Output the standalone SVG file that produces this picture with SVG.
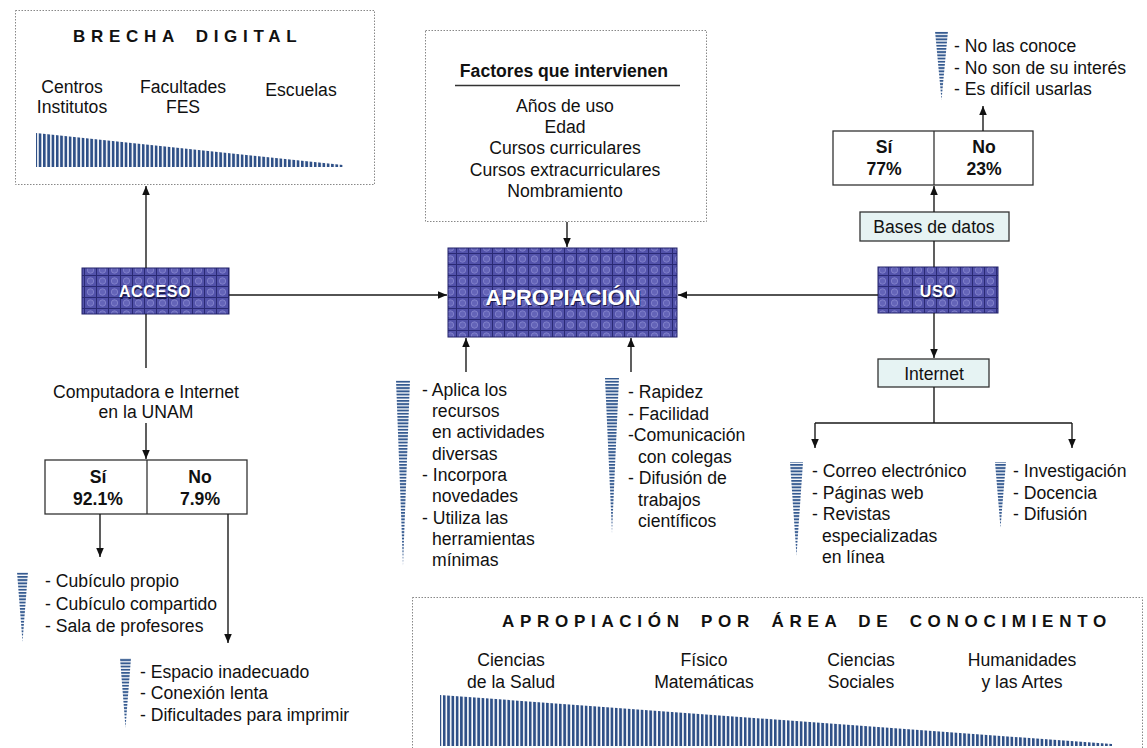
<svg xmlns="http://www.w3.org/2000/svg" width="1147" height="748" viewBox="0 0 1147 748">
<style>
text{font-family:"Liberation Sans",Arial,sans-serif;fill:#111}
.t{font-size:17.6px}
.c{text-anchor:middle}
.b{font-weight:bold}
.ttl{font-size:17px;font-weight:bold;letter-spacing:5.7px;word-spacing:6px}
.node{fill:url(#grid);stroke:#23236a;stroke-width:1}
.nt{font-weight:bold;fill:#fff;text-anchor:middle}
.ns{font-weight:bold;fill:#1a1a4a;text-anchor:middle}
.dot{fill:#fff;stroke:#888;stroke-width:1;stroke-dasharray:1.5 1.5}
.box{fill:#fff;stroke:#333;stroke-width:1.3}
.lbox{fill:#e6f3f3;stroke:#333;stroke-width:1.3}
.conn path{fill:none;stroke:#1a1a1a;stroke-width:1.4}
.vbar{fill:url(#vstripe)}
.hbar{fill:url(#hstripe)}
</style>
<defs>
<pattern id="grid" width="12" height="11" patternUnits="userSpaceOnUse">
<rect width="12" height="11" fill="#5252aa"/>
<circle cx="6.5" cy="6" r="3.2" fill="#6464b8" stroke="#8282cc" stroke-width="0.9"/>
<path d="M0 0.5H12M0.5 0V11" stroke="#2a2a74" stroke-width="1"/>
</pattern>
<pattern id="vstripe" width="4.3" height="748" patternUnits="userSpaceOnUse">
<rect width="2.7" height="748" fill="#2f5087"/>
</pattern>
<pattern id="hstripe" width="20" height="3.2" patternUnits="userSpaceOnUse">
<rect width="20" height="1.9" fill="#355a90"/>
</pattern>
<marker id="ah" viewBox="0 0 10 10" refX="10" refY="5" markerWidth="9" markerHeight="9" orient="auto" markerUnits="userSpaceOnUse">
<path d="M0,0.8 L10,5 L0,9.2 z" fill="#111"/>
</marker>
</defs>
<rect width="1147" height="748" fill="#fff"/>

<g id="brecha-digital">
<rect class="dot" x="15.5" y="10.5" width="359" height="174"/>
<text class="ttl" x="73" y="42">BRECHA DIGITAL</text>
<text class="t c" x="72" y="93">Centros</text>
<text class="t c" x="72" y="113">Institutos</text>
<text class="t c" x="183" y="93">Facultades</text>
<text class="t c" x="183" y="113">FES</text>
<text class="t c" x="301" y="96">Escuelas</text>
<polygon class="vbar" points="36,133 343,165 343,167 36,167"/>
</g>

<g id="factores">
<rect class="dot" x="425.5" y="30.5" width="281" height="191"/>
<text class="t c b" x="564" y="77">Factores que intervienen</text>
<path d="M455 85.5H680" stroke="#333" stroke-width="1.3"/>
<text class="t c" x="565" y="112">Años de uso</text>
<text class="t c" x="565" y="133">Edad</text>
<text class="t c" x="565" y="154">Cursos curriculares</text>
<text class="t c" x="565" y="176">Cursos extracurriculares</text>
<text class="t c" x="565" y="197">Nombramiento</text>
</g>

<g id="acceso">
<rect class="node" x="82" y="268" width="147" height="46"/>
<text class="ns" x="156" y="298.5" font-size="16" letter-spacing="0.6">ACCESO</text>
<text class="nt" x="155" y="297" font-size="16" letter-spacing="0.6">ACCESO</text>
</g>

<g id="apropiacion">
<rect class="node" x="448" y="248" width="229" height="89"/>
<text class="ns" x="564" y="306" font-size="22">APROPIACIÓN</text>
<text class="nt" x="563" y="304.5" font-size="22">APROPIACIÓN</text>
</g>

<g id="uso">
<rect class="node" x="878" y="267" width="120" height="46"/>
<text class="ns" x="939" y="298.5" font-size="16" letter-spacing="0.6">USO</text>
<text class="nt" x="938" y="297" font-size="16" letter-spacing="0.6">USO</text>
</g>

<g id="computadora-label">
<text class="t c" x="146" y="398">Computadora e Internet</text>
<text class="t c" x="146" y="418">en la UNAM</text>
</g>

<g id="acceso-si-no">
<rect class="box" x="45" y="460" width="202" height="54"/>
<path d="M147 460V514" stroke="#333" stroke-width="1.3"/>
<text class="t c b" x="98" y="483">Sí</text>
<text class="t c b" x="98" y="505">92.1%</text>
<text class="t c b" x="200" y="483">No</text>
<text class="t c b" x="200" y="505">7.9%</text>
</g>

<g id="lista-si">
<polygon class="hbar" points="17,572 28,572 22.5,642"/>
<text class="t" x="45" y="587">- Cubículo propio</text>
<text class="t" x="45" y="610">- Cubículo compartido</text>
<text class="t" x="45" y="632">- Sala de profesores</text>
</g>

<g id="lista-no">
<polygon class="hbar" points="120,658 131,658 125.5,728"/>
<text class="t" x="140" y="678">- Espacio inadecuado</text>
<text class="t" x="140" y="699">- Conexión lenta</text>
<text class="t" x="140" y="721">- Dificultades para imprimir</text>
</g>

<g id="lista-aplica">
<polygon class="hbar" points="396,380 410,380 403,566"/>
<text class="t" x="422" y="396">- Aplica los</text>
<text class="t" x="432" y="417">recursos</text>
<text class="t" x="432" y="438">en actividades</text>
<text class="t" x="432" y="460">diversas</text>
<text class="t" x="422" y="481">- Incorpora</text>
<text class="t" x="432" y="502">novedades</text>
<text class="t" x="422" y="524">- Utiliza las</text>
<text class="t" x="432" y="545">herramientas</text>
<text class="t" x="432" y="566">mínimas</text>
</g>

<g id="lista-rapidez">
<polygon class="hbar" points="605,378 619,378 612,533"/>
<text class="t" x="628" y="398">- Rapidez</text>
<text class="t" x="628" y="420">- Facilidad</text>
<text class="t" x="628" y="441">-Comunicación</text>
<text class="t" x="638" y="463">con colegas</text>
<text class="t" x="628" y="484">- Difusión de</text>
<text class="t" x="638" y="506">trabajos</text>
<text class="t" x="638" y="527">científicos</text>
</g>

<g id="lista-no-conoce">
<polygon class="hbar" points="935,31 948,31 941.5,100"/>
<text class="t" x="954" y="52">- No las conoce</text>
<text class="t" x="954" y="74">- No son de su interés</text>
<text class="t" x="954" y="95">- Es difícil usarlas</text>
</g>

<g id="uso-si-no">
<rect class="box" x="833" y="131" width="200" height="54"/>
<path d="M934 131V185" stroke="#333" stroke-width="1.3"/>
<text class="t c b" x="884" y="153">Sí</text>
<text class="t c b" x="884" y="175">77%</text>
<text class="t c b" x="984" y="153">No</text>
<text class="t c b" x="984" y="175">23%</text>
</g>

<g id="bases-de-datos">
<rect class="lbox" x="860" y="212" width="149" height="29"/>
<text class="t c" x="934" y="233">Bases de datos</text>
</g>

<g id="internet">
<rect class="lbox" x="878" y="359" width="111" height="28"/>
<text class="t c" x="934" y="380">Internet</text>
</g>

<g id="lista-correo">
<polygon class="hbar" points="790,462 803,462 796.5,556"/>
<text class="t" x="812" y="477">- Correo electrónico</text>
<text class="t" x="812" y="499">- Páginas web</text>
<text class="t" x="812" y="520">- Revistas</text>
<text class="t" x="822" y="542">especializadas</text>
<text class="t" x="822" y="563">en línea</text>
</g>

<g id="lista-investigacion">
<polygon class="hbar" points="995,462 1006,462 1000.5,528"/>
<text class="t" x="1013" y="477">- Investigación</text>
<text class="t" x="1013" y="499">- Docencia</text>
<text class="t" x="1013" y="520">- Difusión</text>
</g>

<g id="area-conocimiento">
<rect class="dot" x="412.5" y="597.5" width="730" height="160"/>
<text class="ttl" x="502" y="627">APROPIACIÓN POR ÁREA DE CONOCIMIENTO</text>
<text class="t c" x="511" y="666">Ciencias</text>
<text class="t c" x="511" y="688">de la Salud</text>
<text class="t c" x="704" y="666">Físico</text>
<text class="t c" x="704" y="688">Matemáticas</text>
<text class="t c" x="861" y="666">Ciencias</text>
<text class="t c" x="861" y="688">Sociales</text>
<text class="t c" x="1022" y="666">Humanidades</text>
<text class="t c" x="1022" y="688">y las Artes</text>
<polygon class="vbar" points="440,695 1112,744 1112,746 440,746"/>
</g>

<g class="conn" id="connectors">
<path d="M146 268V186" marker-end="url(#ah)"/>
<path d="M146 314V368"/>
<path d="M146 423V459" marker-end="url(#ah)"/>
<path d="M229 295H447" marker-end="url(#ah)"/>
<path d="M567 222V247" marker-end="url(#ah)"/>
<path d="M878 295H678" marker-end="url(#ah)"/>
<path d="M466 372V338" marker-end="url(#ah)"/>
<path d="M631 372V338" marker-end="url(#ah)"/>
<path d="M934 267V241"/>
<path d="M934 212V186" marker-end="url(#ah)"/>
<path d="M983 131V106" marker-end="url(#ah)"/>
<path d="M934 313V358" marker-end="url(#ah)"/>
<path d="M934 387V423M815 423H1072"/>
<path d="M815 423V448" marker-end="url(#ah)"/>
<path d="M1072 423V448" marker-end="url(#ah)"/>
<path d="M100 514V557" marker-end="url(#ah)"/>
<path d="M228 514V643" marker-end="url(#ah)"/>
</g>
</svg>
